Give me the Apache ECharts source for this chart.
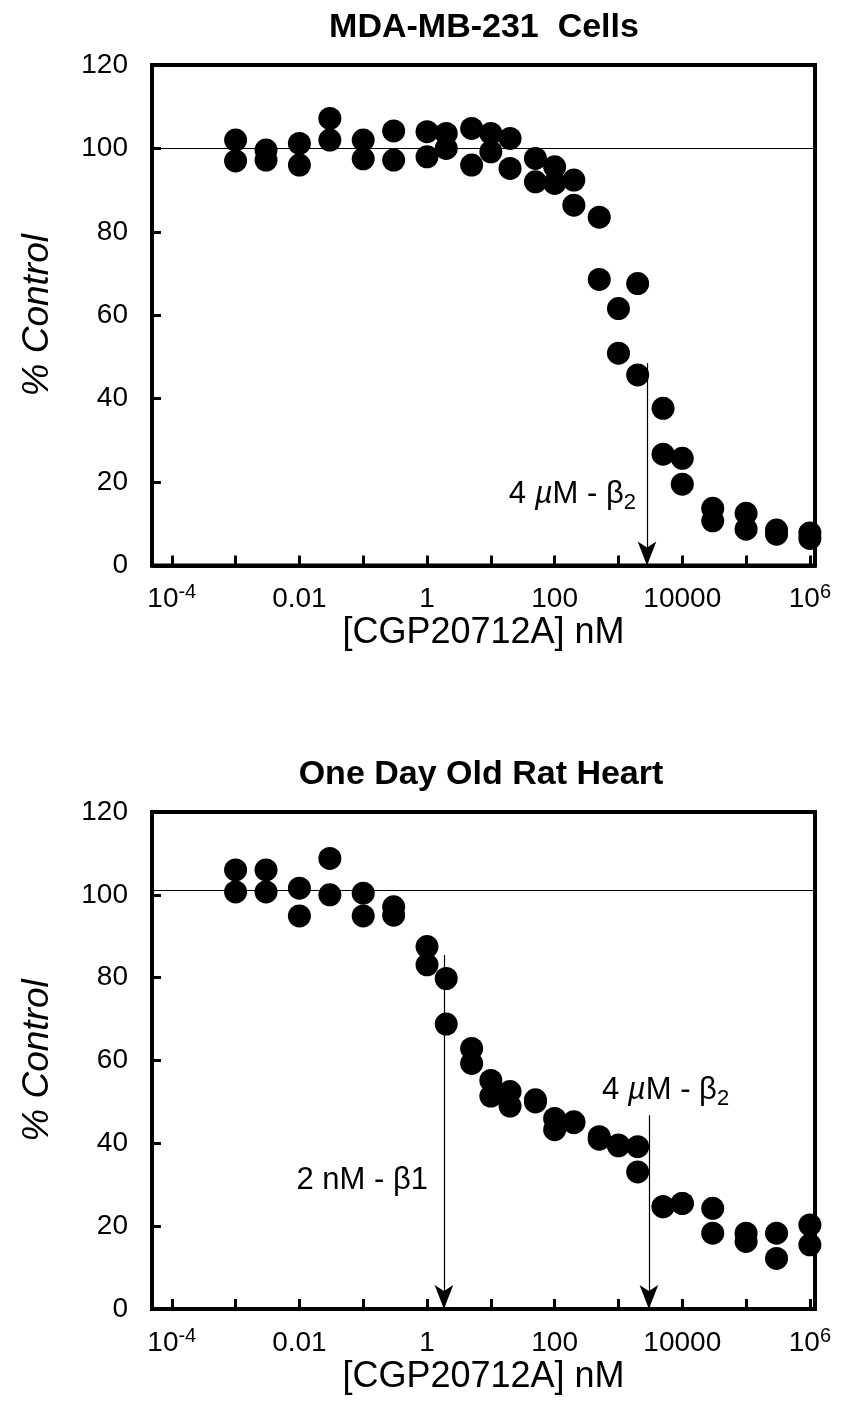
<!DOCTYPE html>
<html>
<head>
<meta charset="utf-8">
<script src="https://cdn.jsdelivr.net/npm/echarts@6/dist/echarts.min.js"></script>
<style>
html,body{margin:0;padding:0;background:#fff;}
#c{width:842px;height:1410px;}
</style>
</head>
<body>
<div id="c"></div>
<script>
// ---- data ----
const concentrations = [0.001, 0.003, 0.01, 0.03, 0.1, 0.3, 1, 2, 5, 10, 20, 50, 100, 200, 500, 1000, 2000, 5000, 10000, 30000, 100000, 300000, 1000000];

const cellsRep1 = [102, 99.6, 101.2, 107.2, 102, 104.2, 104, 103.6, 104.8, 103.6, 102.4, 97.6, 95.6, 92.4, 83.5, 61.6, 67.6, 37.7, 25.7, 13.7, 12.5, 8.5, 7.8];
const cellsRep2 = [97, 97.2, 96, 102, 97.5, 97.2, 98, 100, 96, 99.2, 95.2, 92, 91.6, 86.4, 68.6, 50.9, 45.7, 26.7, 19.5, 10.7, 8.7, 7.5, 6.5];

const heartRep1 = [106, 106, 101.6, 108.8, 100.4, 97.1, 87.5, 79.8, 62.9, 55.2, 52.5, 50.5, 46, 45.2, 41.6, 39.6, 39.2, 24.7, 25.5, 24.3, 18.3, 18.3, 20.3];
const heartRep2 = [100.7, 100.7, 94.9, 100, 94.9, 95.1, 83.1, 68.8, 59.3, 51.4, 49, 50, 43.3, 45, 41, 39.4, 33.1, 24.7, 25.5, 18.3, 16.3, 12.2, 15.5];

const cellsControlLevel = 100;
const heartControlLevel = 101;

// arrows: [concentration, top of arrow (% control)]
const cellsArrows = [[2800, 48.5]];
const heartArrows = [[1.84, 85.5], [3000, 46.8]];

const titles = ['MDA-MB-231  Cells', 'One Day Old Rat Heart'];
const xAxisTitle = '[CGP20712A] nM';
const yAxisTitle = '% Control';

const xTickValues = [1e-4, 1e-3, 1e-2, 1e-1, 1, 10, 100, 1e3, 1e4, 1e5, 1e6];
const xLabelValues = [1e-4, 1e-2, 1, 100, 1e4, 1e6];
const xLabelTexts = ['{b|10}{s|-4}', '{b|0.01}', '{b|1}', '{b|100}', '{b|10000}', '{b|10}{s|6}'];
const yMin = 0, yMax = 120, yStep = 20;

// ---- chart ----
const FONT = '"Liberation Sans", Arial, Helvetica, sans-serif';
const chart = echarts.init(document.getElementById('c'), null, {renderer: 'canvas'});

function xLabelFormatter(v) {
  const lv = Math.log10(v);
  for (let i = 0; i < xLabelValues.length; i++) {
    if (Math.abs(Math.log10(xLabelValues[i]) - lv) < 1e-6) return xLabelTexts[i];
  }
  return '';
}

const grids = [
  {left: 152, top: 65, width: 663, height: 500.5},
  {left: 152, top: 812, width: 663, height: 497}
];

function makeX(gi) {
  return {
    type: 'log', logBase: 10, gridIndex: gi,
    min: Math.pow(10, -4.31), max: Math.pow(10, 6.08),
    axisLine: {show: true, onZero: false, lineStyle: {color: '#000', width: 4}},
    axisTick: {show: true, inside: true, length: 10, customValues: xTickValues,
               lineStyle: {color: '#000', width: 3}},
    minorTick: {show: false},
    splitLine: {show: false},
    axisLabel: {
      show: true, customValues: xLabelValues, formatter: xLabelFormatter,
      margin: 17, color: '#000',
      rich: {
        b: {fontSize: 28, fontFamily: FONT, color: '#000', lineHeight: 34},
        s: {fontSize: 20, fontFamily: FONT, color: '#000', lineHeight: 10, verticalAlign: 'top'}
      }
    },
    name: xAxisTitle, nameLocation: 'middle', nameGap: 50,
    nameTextStyle: {fontSize: 36, fontFamily: FONT, color: '#000'}
  };
}

function makeY(gi) {
  return {
    type: 'value', gridIndex: gi, min: yMin, max: yMax, interval: yStep,
    axisLine: {show: true, onZero: false, lineStyle: {color: '#000', width: 4}},
    axisTick: {show: true, inside: true, length: 9, lineStyle: {color: '#000', width: 3}},
    splitLine: {show: false},
    axisLabel: {fontSize: 28, fontFamily: FONT, color: '#000', margin: 24},
    name: yAxisTitle, nameLocation: 'middle', nameGap: 96,
    nameTextStyle: {fontSize: 37, fontFamily: FONT, fontStyle: 'italic', color: '#000'}
  };
}

function pairs(rep) { return concentrations.map((c, i) => [c, rep[i]]); }

function makeSeries(gi, rep1, rep2, control, arrows) {
  const arrowLines = arrows.map(a => [
    {coord: [a[0], a[1]], symbol: 'none'},
    {coord: [a[0], 0], symbol: 'arrow', symbolSize: [14, 24]}
  ]);
  return {
    type: 'scatter', xAxisIndex: gi, yAxisIndex: gi,
    data: pairs(rep1).concat(pairs(rep2)),
    symbol: 'circle', symbolSize: 23,
    itemStyle: {color: '#000', opacity: 1},
    emphasis: {disabled: true},
    clip: false,
    markLine: {
      silent: true, animation: false,
      symbol: ['none', 'none'],
      label: {show: false},
      lineStyle: {color: '#000', width: 1.2, type: 'solid', opacity: 1},
      emphasis: {disabled: true},
      data: [{yAxis: control}].concat(arrowLines)
    }
  };
}

const RICH_ANN = {
  n: {fontSize: 31, fontFamily: FONT, color: '#000', verticalAlign: 'middle'},
  i: {fontSize: 31, fontFamily: FONT, fontStyle: 'italic', color: '#000', verticalAlign: 'middle'},
  sub: {fontSize: 22, fontFamily: FONT, color: '#000', padding: [17, 0, 0, 0], verticalAlign: 'middle'}
};

const option = {
  animation: false,
  backgroundColor: '#fff',
  grid: grids.map(g => Object.assign({show: true, borderColor: '#000', borderWidth: 4, backgroundColor: 'transparent', containLabel: false}, g)),
  xAxis: [makeX(0), makeX(1)],
  yAxis: [makeY(0), makeY(1)],
  series: [
    makeSeries(0, cellsRep1, cellsRep2, cellsControlLevel, cellsArrows),
    makeSeries(1, heartRep1, heartRep2, heartControlLevel, heartArrows)
  ],
  graphic: [
    {type: 'text', x: 484, y: 28, style: {text: titles[0], font: 'bold 34px ' + FONT, fill: '#000', align: 'center', verticalAlign: 'middle'}},
    {type: 'text', x: 481, y: 775, style: {text: titles[1], font: 'bold 34px ' + FONT, fill: '#000', align: 'center', verticalAlign: 'middle'}},
    {type: 'text', x: 636, y: 494, style: {text: '{n|4 }{i|µ}{n|M - β}{sub|2}', rich: RICH_ANN, align: 'right', verticalAlign: 'middle'}},
    {type: 'text', x: 602, y: 1090, style: {text: '{n|4 }{i|µ}{n|M - β}{sub|2}', rich: RICH_ANN, align: 'left', verticalAlign: 'middle'}},
    {type: 'text', x: 428, y: 1180, style: {text: '{n|2 nM - β1}', rich: RICH_ANN, align: 'right', verticalAlign: 'middle'}}
  ]
};
chart.setOption(option);
</script>
</body>
</html>
